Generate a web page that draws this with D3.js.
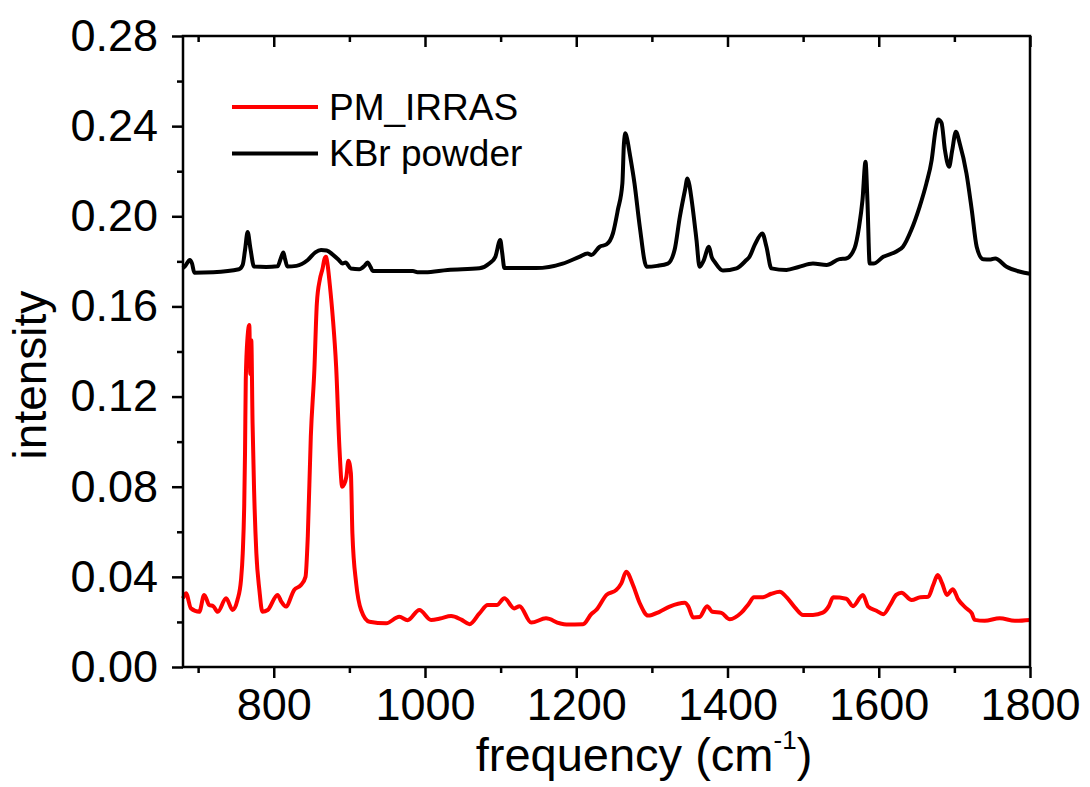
<!DOCTYPE html>
<html>
<head>
<meta charset="utf-8">
<script src="https://cdn.jsdelivr.net/npm/d3@7"></script>
<style>
  body { margin: 0; background: #fff; }
  svg { display: block; font-family: "Liberation Sans", Arial, sans-serif; }
</style>
</head>
<body>
<svg id="chart" width="1090" height="787"></svg>
<script>
// series: [frequency cm-1, intensity]
const kbrPowder = [
  [680, 0.177], [683, 0.178], [689, 0.1806], [692, 0.179], [695, 0.175], [720, 0.1752],
  [754, 0.1765], [759, 0.1785], [762, 0.185], [765.5, 0.193], [769, 0.186], [774, 0.1777],
  [790, 0.1775], [805, 0.1778], [809, 0.181], [812.7, 0.1839], [815, 0.181], [818, 0.1777],
  [830, 0.178], [845, 0.1806], [855, 0.184], [862.5, 0.185], [870, 0.1848], [878, 0.183],
  [886, 0.1806], [891, 0.179], [895, 0.1795], [902, 0.1768], [913, 0.1765], [920, 0.178],
  [924, 0.1795], [928, 0.1775], [931, 0.1757], [984, 0.1757], [990, 0.1752], [1000, 0.1752],
  [1030, 0.1762], [1072, 0.1769], [1085, 0.179], [1093, 0.182], [1099.5, 0.1895], [1102, 0.184],
  [1105, 0.177], [1147, 0.177], [1182, 0.179], [1204, 0.182], [1215, 0.1835], [1220, 0.1828],
  [1231, 0.1865], [1240, 0.1875], [1248.5, 0.1924], [1255, 0.2028], [1261, 0.2146], [1263, 0.232],
  [1265, 0.2368], [1267.5, 0.234], [1270.6, 0.228], [1277, 0.2146], [1284, 0.1954], [1293, 0.1776],
  [1307, 0.178], [1321, 0.179], [1330, 0.185], [1337, 0.1998], [1344, 0.212], [1347, 0.2168],
  [1349.5, 0.214], [1352, 0.2087], [1359, 0.1895], [1363, 0.1776], [1368, 0.180], [1375.5, 0.1865],
  [1379, 0.182], [1383, 0.1798], [1394, 0.1759], [1412, 0.1769], [1425, 0.1806], [1429, 0.182],
  [1436, 0.1873], [1446, 0.1924], [1451.5, 0.1865], [1458, 0.1769], [1478, 0.1762], [1494, 0.1775],
  [1513, 0.179], [1531, 0.1784], [1548, 0.181], [1557, 0.1813], [1568, 0.1858], [1574, 0.1954],
  [1578.5, 0.2072], [1582.5, 0.2242], [1585, 0.2072], [1588, 0.179], [1593, 0.179], [1606, 0.182],
  [1624, 0.1845], [1632, 0.1865], [1643, 0.1939], [1654, 0.2042], [1663, 0.2146], [1670, 0.225],
  [1675, 0.238], [1678.6, 0.243], [1683, 0.2415], [1687.5, 0.2294], [1693, 0.222], [1697, 0.229],
  [1702, 0.2375], [1707, 0.2324], [1716, 0.219], [1723, 0.2028], [1729.5, 0.1865], [1738, 0.1809],
  [1748, 0.1808], [1754, 0.1813], [1769, 0.1776], [1787, 0.1754], [1800, 0.1745]
]

const pmIrras = [
  [680, 0.0305], [684, 0.0327], [690.5, 0.026], [701.5, 0.0245], [708, 0.032], [714.7, 0.0275],
  [720, 0.027], [726, 0.0245], [737, 0.0305], [745.6, 0.0253], [752, 0.0297], [756.7, 0.0386],
  [759, 0.0505], [761, 0.0726], [762, 0.0948], [763, 0.1274], [765.4, 0.1466], [767.7, 0.1518],
  [769, 0.13], [770.3, 0.145], [772, 0.108], [774, 0.0785], [777, 0.0505], [781, 0.0342],
  [785, 0.0245], [792, 0.0253], [805, 0.032], [810, 0.029], [816, 0.0268], [827, 0.0342],
  [836, 0.0364], [842, 0.04], [845, 0.0578], [849, 0.1022], [853.7, 0.1318], [857, 0.1614],
  [861, 0.172], [864.7, 0.177], [867, 0.181], [869, 0.182], [871, 0.179], [874, 0.170],
  [878, 0.1554], [882.5, 0.1333], [887, 0.0963], [890.5, 0.08], [893, 0.081], [896, 0.0844],
  [898.7, 0.0915], [902, 0.086], [904, 0.0593], [909, 0.0371], [915.5, 0.0253], [926.5, 0.0201],
  [948.6, 0.0194], [966, 0.0223], [977, 0.0208], [992.6, 0.0253], [1008, 0.0209], [1020, 0.0215],
  [1034.5, 0.0226], [1048, 0.021], [1059, 0.019], [1072, 0.0238], [1083, 0.0275], [1095, 0.0275],
  [1105, 0.0305], [1118, 0.026], [1125, 0.027], [1140.5, 0.0197], [1160, 0.0216], [1178, 0.0194],
  [1187, 0.0189], [1209, 0.019], [1220, 0.0235], [1226.5, 0.0253], [1240, 0.032], [1253, 0.0342],
  [1259.6, 0.0371], [1266, 0.0423], [1275, 0.0364], [1284, 0.0283], [1295, 0.0228], [1310, 0.0245],
  [1323.5, 0.0268], [1343.5, 0.0285], [1348, 0.027], [1354.5, 0.022], [1363, 0.0222], [1373, 0.027],
  [1380, 0.0245], [1392, 0.024], [1403, 0.0212], [1418, 0.024], [1428, 0.028], [1435, 0.0309],
  [1447, 0.031], [1458, 0.0325], [1469, 0.0334], [1478, 0.031], [1489, 0.0265], [1500, 0.0231],
  [1513, 0.0231], [1526, 0.0241], [1534, 0.027], [1539.7, 0.0309], [1557, 0.0303], [1566, 0.027],
  [1579, 0.032], [1586, 0.0268], [1597, 0.025], [1606, 0.0234], [1615, 0.0275], [1623, 0.032],
  [1630, 0.033], [1643.5, 0.0297], [1655, 0.031], [1665.5, 0.0312], [1672, 0.0364], [1678, 0.0408],
  [1684, 0.037], [1690, 0.032], [1698, 0.0345], [1705, 0.03], [1716, 0.026], [1723, 0.0238],
  [1727, 0.0209], [1740, 0.0205], [1760, 0.0216], [1780, 0.0205], [1800, 0.0209]
]

const seriesNames = ['PM_IRRAS', 'KBr powder']
const seriesColors = ['#ff0000', '#000000']
const xMajorTicks = [800, 1000, 1200, 1400, 1600, 1800]
const xMinorTicks = [700, 900, 1100, 1300, 1500, 1700]
const yMajorTicks = [0, 0.04, 0.08, 0.12, 0.16, 0.20, 0.24, 0.28]
const yMinorTicks = [0.02, 0.06, 0.10, 0.14, 0.18, 0.22, 0.26]

const svg = d3.select('#chart')

const plotLeft = 183, plotRight = 1030, plotTop = 36, plotBottom = 667
const MAJOR = 11, MINOR = 6

const x = d3.scaleLinear().domain([680, 1800]).range([plotLeft, plotRight])
const y = d3.scaleLinear().domain([0, 0.28]).range([plotBottom, plotTop])

const styleAxis = g => {
    g.select('.domain').remove()
    g.selectAll('line').attr('stroke', '#000').attr('stroke-width', 2.5)
    g.selectAll('text').attr('fill', '#000').attr('font-size', 45)
        .attr('font-family', '"Liberation Sans", Arial, sans-serif')
}

// bottom axis, ticks outside
svg.append('g')
    .attr('transform', `translate(0,${plotBottom})`)
    .call(d3.axisBottom(x).tickValues(xMajorTicks).tickSize(MAJOR).tickPadding(10)
        .tickFormat(d3.format('d')).tickSizeOuter(0))
    .call(styleAxis)
svg.append('g')
    .attr('transform', `translate(0,${plotBottom})`)
    .call(d3.axisBottom(x).tickValues(xMinorTicks).tickSize(MINOR).tickFormat('').tickSizeOuter(0))
    .call(styleAxis)

// top axis, ticks pointing in
svg.append('g')
    .attr('transform', `translate(0,${plotTop})`)
    .call(d3.axisBottom(x).tickValues(xMajorTicks).tickSize(MAJOR).tickFormat('').tickSizeOuter(0))
    .call(styleAxis)
svg.append('g')
    .attr('transform', `translate(0,${plotTop})`)
    .call(d3.axisBottom(x).tickValues(xMinorTicks).tickSize(MINOR).tickFormat('').tickSizeOuter(0))
    .call(styleAxis)

// left axis
svg.append('g')
    .attr('transform', `translate(${plotLeft},0)`)
    .call(d3.axisLeft(y).tickValues(yMajorTicks).tickSize(MAJOR).tickPadding(14)
        .tickFormat(d3.format('.2f')).tickSizeOuter(0))
    .call(styleAxis)
svg.append('g')
    .attr('transform', `translate(${plotLeft},0)`)
    .call(d3.axisLeft(y).tickValues(yMinorTicks).tickSize(MINOR).tickFormat('').tickSizeOuter(0))
    .call(styleAxis)

const line = d3.line()
    .curve(d3.curveMonotoneX)
    .x(d => x(d[0]))
    .y(d => y(d[1]))

svg.append('path')
    .datum(pmIrras)
    .attr('d', line)
    .attr('fill', 'none')
    .attr('stroke', seriesColors[0])
    .attr('stroke-width', 4)
    .attr('stroke-linejoin', 'round')

svg.append('path')
    .datum(kbrPowder)
    .attr('d', line)
    .attr('fill', 'none')
    .attr('stroke', seriesColors[1])
    .attr('stroke-width', 4)
    .attr('stroke-linejoin', 'round')

// frame
svg.append('rect')
    .attr('x', plotLeft)
    .attr('y', plotTop)
    .attr('width', plotRight - plotLeft)
    .attr('height', plotBottom - plotTop)
    .attr('fill', 'none')
    .attr('stroke', '#000')
    .attr('stroke-width', 2.5)

// legend
const legend = svg.append('g')
    .selectAll('g')
    .data(seriesNames)
    .join('g')
        .attr('transform', (d, i) => `translate(232,${107 + i * 46.5})`)

legend.append('line')
    .attr('x1', 0)
    .attr('x2', 86)
    .attr('stroke', (d, i) => seriesColors[i])
    .attr('stroke-width', 4)

legend.append('text')
    .attr('x', 97)
    .attr('y', 12.5)
    .attr('font-size', 37)
    .text(d => d)

// axis titles
const xTitle = svg.append('text')
    .attr('x', 644)
    .attr('y', 771)
    .attr('text-anchor', 'middle')
    .attr('font-size', 47)
xTitle.append('tspan').text('frequency (cm')
xTitle.append('tspan').attr('font-size', 26).attr('dy', -22).text('-1')
xTitle.append('tspan').attr('dy', 22).text(')')

svg.append('text')
    .attr('transform', 'translate(46,375) rotate(-90)')
    .attr('text-anchor', 'middle')
    .attr('font-size', 46)
    .text('intensity')
</script>
</body>
</html>
